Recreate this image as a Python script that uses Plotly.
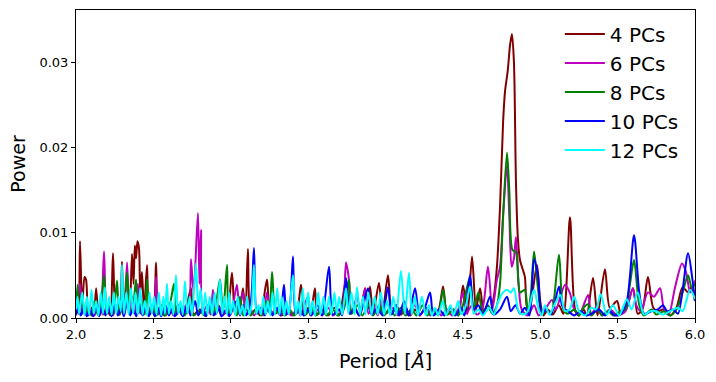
import plotly.graph_objects as go

# ---------------- data ----------------
series_names = ["4 PCs", "6 PCs", "8 PCs", "10 PCs", "12 PCs"]
series_colors = ["#800000", "#BF00BF", "#008000", "#0000FF", "#00FFFF"]

pc4_x = [2.00, 2.015, 2.026, 2.04, 2.055, 2.065, 2.08, 2.10, 2.115, 2.13, 2.145, 2.162, 2.175, 2.20, 2.22,
         2.239, 2.255, 2.27, 2.285, 2.297, 2.31, 2.33, 2.345, 2.362, 2.372, 2.38, 2.388, 2.397, 2.407, 2.415,
         2.426, 2.44, 2.459, 2.475, 2.50, 2.517, 2.53, 2.55, 2.57, 2.60, 2.63, 2.66, 2.69, 2.72, 2.743, 2.76,
         2.80, 2.83, 2.86, 2.89, 2.92, 2.95, 2.98, 3.008, 3.025, 3.04, 3.055, 3.079, 3.095, 3.111, 3.13, 3.16,
         3.19, 3.234, 3.25, 3.27, 3.30, 3.33, 3.37, 3.40, 3.43, 3.454, 3.475, 3.50, 3.515, 3.544, 3.56, 3.60,
         3.63, 3.67, 3.70, 3.745, 3.77, 3.80, 3.83, 3.868, 3.887, 3.90, 3.92, 3.958, 3.98, 4.016, 4.04, 4.07,
         4.10, 4.13, 4.16, 4.19, 4.22, 4.26, 4.30, 4.34, 4.372, 4.40, 4.44, 4.47, 4.501, 4.53, 4.559, 4.585,
         4.611, 4.635, 4.66, 4.68, 4.70, 4.72, 4.74, 4.76, 4.772, 4.79, 4.805, 4.817, 4.83, 4.843, 4.855,
         4.869, 4.885, 4.901, 4.914, 4.93, 4.95, 4.979, 5.00, 5.02, 5.05, 5.08, 5.12, 5.15, 5.192, 5.225,
         5.25, 5.28, 5.30, 5.341, 5.37, 5.418, 5.45, 5.496, 5.52, 5.55, 5.599, 5.63, 5.66, 5.696, 5.73, 5.76,
         5.793, 5.84, 5.88, 5.92, 5.955, 5.975, 6.00]
pc4_y = [0.0015, 0.0005, 0.0090, 0.0010, 0.0048, 0.0045, 0.0005, 0.0012, 0.0003, 0.0035, 0.0004, 0.0020,
         0.0004, 0.0010, 0.0003, 0.0076, 0.0008, 0.0015, 0.0004, 0.0066, 0.0005, 0.0020, 0.0005, 0.0075,
         0.0040, 0.0085, 0.0070, 0.0090, 0.0082, 0.0030, 0.0054, 0.0008, 0.0062, 0.0005, 0.0010, 0.0065,
         0.0005, 0.0015, 0.0003, 0.0012, 0.0004, 0.0015, 0.0004, 0.0018, 0.0035, 0.0004, 0.0010, 0.0003,
         0.0012, 0.0004, 0.0015, 0.0004, 0.0010, 0.0053, 0.0005, 0.0020, 0.0004, 0.0035, 0.0005, 0.0081,
         0.0005, 0.0010, 0.0003, 0.0045, 0.0010, 0.0005, 0.0012, 0.0003, 0.0008, 0.0003, 0.0010, 0.0039,
         0.0005, 0.0012, 0.0003, 0.0035, 0.0004, 0.0010, 0.0003, 0.0012, 0.0003, 0.0045, 0.0005, 0.0012,
         0.0003, 0.0035, 0.0010, 0.0037, 0.0005, 0.0041, 0.0005, 0.0050, 0.0005, 0.0015, 0.0004, 0.0012,
         0.0003, 0.0010, 0.0003, 0.0012, 0.0004, 0.0008, 0.0037, 0.0004, 0.0010, 0.0003, 0.0038, 0.0005,
         0.0072, 0.0010, 0.0035, 0.0008, 0.0015, 0.0010, 0.0025, 0.0060, 0.0130, 0.0230, 0.0265, 0.0290,
         0.0320, 0.0333, 0.0300, 0.0160, 0.0095, 0.0068, 0.0058, 0.0048, 0.0013, 0.0010, 0.0030, 0.0062,
         0.0020, 0.0003, 0.0010, 0.0004, 0.0015, 0.0005, 0.0118, 0.0010, 0.0003, 0.0010, 0.0003, 0.0047,
         0.0003, 0.0057, 0.0012, 0.0020, 0.0005, 0.0008, 0.0035, 0.0005, 0.0010, 0.0048, 0.0012, 0.0008,
         0.0010, 0.0003, 0.0012, 0.0036, 0.0030, 0.0036, 0.0020]

pc6_x = [2.00, 2.026, 2.04, 2.06, 2.08, 2.10, 2.12, 2.14, 2.16, 2.181, 2.20, 2.22, 2.24, 2.26, 2.28, 2.297,
         2.31, 2.33, 2.345, 2.362, 2.38, 2.40, 2.415, 2.44, 2.46, 2.49, 2.505, 2.517, 2.53, 2.56, 2.58, 2.61,
         2.63, 2.66, 2.68, 2.71, 2.73, 2.743, 2.76, 2.788, 2.798, 2.808, 2.82, 2.85, 2.87, 2.885, 2.90, 2.93,
         2.95, 2.98, 3.00, 3.04, 3.055, 3.079, 3.10, 3.13, 3.15, 3.19, 3.21, 3.234, 3.26, 3.29, 3.32, 3.36,
         3.39, 3.43, 3.45, 3.499, 3.52, 3.56, 3.59, 3.63, 3.66, 3.70, 3.72, 3.745, 3.764, 3.78, 3.816, 3.84,
         3.868, 3.89, 3.92, 3.95, 3.98, 4.00, 4.05, 4.08, 4.12, 4.15, 4.19, 4.22, 4.26, 4.29, 4.33, 4.36,
         4.40, 4.43, 4.47, 4.501, 4.52, 4.56, 4.59, 4.625, 4.662, 4.69, 4.72, 4.74, 4.76, 4.785, 4.80, 4.815,
         4.83, 4.843, 4.86, 4.88, 4.92, 4.96, 4.99, 5.03, 5.076, 5.10, 5.16, 5.19, 5.22, 5.25, 5.309, 5.33,
         5.36, 5.40, 5.45, 5.50, 5.55, 5.599, 5.62, 5.65, 5.696, 5.735, 5.774, 5.80, 5.83, 5.87, 5.916, 5.94,
         5.97, 6.00]
pc6_y = [0.0005, 0.0040, 0.0005, 0.0015, 0.0003, 0.0010, 0.0003, 0.0015, 0.0004, 0.0078, 0.0006, 0.0012,
         0.0003, 0.0015, 0.0004, 0.0025, 0.0004, 0.0065, 0.0005, 0.0025, 0.0005, 0.0040, 0.0005, 0.0020,
         0.0004, 0.0015, 0.0004, 0.0048, 0.0004, 0.0015, 0.0003, 0.0012, 0.0003, 0.0015, 0.0004, 0.0015,
         0.0010, 0.0069, 0.0030, 0.0123, 0.0040, 0.0103, 0.0008, 0.0015, 0.0004, 0.0033, 0.0004, 0.0012,
         0.0003, 0.0012, 0.0004, 0.0039, 0.0010, 0.0030, 0.0004, 0.0010, 0.0003, 0.0012, 0.0003, 0.0030,
         0.0005, 0.0010, 0.0003, 0.0010, 0.0003, 0.0010, 0.0003, 0.0025, 0.0004, 0.0010, 0.0003, 0.0012,
         0.0003, 0.0010, 0.0010, 0.0065, 0.0045, 0.0005, 0.0025, 0.0004, 0.0035, 0.0005, 0.0015, 0.0003,
         0.0020, 0.0005, 0.0012, 0.0003, 0.0010, 0.0003, 0.0015, 0.0003, 0.0012, 0.0003, 0.0010, 0.0003,
         0.0010, 0.0003, 0.0010, 0.0030, 0.0005, 0.0015, 0.0004, 0.0010, 0.0060, 0.0010, 0.0045, 0.0060,
         0.0120, 0.0180, 0.0120, 0.0060, 0.0070, 0.0095, 0.0040, 0.0010, 0.0003, 0.0015, 0.0003, 0.0010,
         0.0021, 0.0010, 0.0039, 0.0030, 0.0010, 0.0003, 0.0027, 0.0004, 0.0012, 0.0003, 0.0010, 0.0003,
         0.0008, 0.0035, 0.0015, 0.0008, 0.0030, 0.0025, 0.0035, 0.0010, 0.0004, 0.0035, 0.0064, 0.0055,
         0.0030, 0.0044]

pc8_x = [2.00, 2.01, 2.02, 2.04, 2.055, 2.08, 2.10, 2.12, 2.14, 2.16, 2.181, 2.20, 2.22, 2.24, 2.265, 2.28,
         2.30, 2.31, 2.33, 2.35, 2.37, 2.388, 2.40, 2.43, 2.445, 2.459, 2.475, 2.50, 2.52, 2.55, 2.57, 2.60,
         2.633, 2.65, 2.68, 2.70, 2.73, 2.76, 2.80, 2.83, 2.86, 2.88, 2.90, 2.93, 2.95, 2.976, 2.99, 3.02,
         3.04, 3.06, 3.08, 3.10, 3.13, 3.17, 3.20, 3.234, 3.25, 3.267, 3.29, 3.32, 3.35, 3.38, 3.41, 3.45,
         3.48, 3.52, 3.55, 3.59, 3.62, 3.66, 3.69, 3.73, 3.764, 3.78, 3.82, 3.85, 3.89, 3.92, 3.96, 3.99,
         4.03, 4.06, 4.10, 4.13, 4.17, 4.20, 4.24, 4.27, 4.31, 4.34, 4.372, 4.40, 4.44, 4.47, 4.50, 4.546,
         4.57, 4.60, 4.63, 4.66, 4.69, 4.72, 4.74, 4.76, 4.785, 4.80, 4.82, 4.843, 4.87, 4.90, 4.92, 4.94,
         4.96, 4.985, 5.01, 5.04, 5.07, 5.121, 5.15, 5.18, 5.22, 5.25, 5.28, 5.309, 5.33, 5.37, 5.40, 5.44,
         5.47, 5.52, 5.55, 5.58, 5.606, 5.64, 5.67, 5.72, 5.75, 5.80, 5.84, 5.88, 5.92, 5.955, 5.98, 6.00]
pc8_y = [0.0010, 0.0039, 0.0005, 0.0030, 0.0005, 0.0012, 0.0003, 0.0020, 0.0004, 0.0015, 0.0050, 0.0005,
         0.0015, 0.0004, 0.0044, 0.0004, 0.0012, 0.0003, 0.0053, 0.0004, 0.0015, 0.0045, 0.0005, 0.0020,
         0.0004, 0.0045, 0.0004, 0.0012, 0.0003, 0.0015, 0.0003, 0.0010, 0.0040, 0.0004, 0.0012, 0.0003,
         0.0010, 0.0003, 0.0008, 0.0003, 0.0015, 0.0004, 0.0012, 0.0045, 0.0006, 0.0062, 0.0005, 0.0012,
         0.0003, 0.0025, 0.0003, 0.0010, 0.0003, 0.0012, 0.0003, 0.0020, 0.0006, 0.0054, 0.0005, 0.0012,
         0.0003, 0.0010, 0.0003, 0.0010, 0.0003, 0.0012, 0.0003, 0.0010, 0.0003, 0.0010, 0.0003, 0.0010,
         0.0045, 0.0005, 0.0015, 0.0003, 0.0015, 0.0003, 0.0015, 0.0003, 0.0012, 0.0003, 0.0012, 0.0003,
         0.0010, 0.0003, 0.0015, 0.0003, 0.0010, 0.0003, 0.0033, 0.0004, 0.0010, 0.0003, 0.0015, 0.0048,
         0.0010, 0.0030, 0.0005, 0.0015, 0.0005, 0.0015, 0.0040, 0.0120, 0.0194, 0.0150, 0.0080, 0.0077,
         0.0030, 0.0033, 0.0005, 0.0030, 0.0078, 0.0035, 0.0005, 0.0010, 0.0005, 0.0074, 0.0010, 0.0005,
         0.0010, 0.0003, 0.0012, 0.0016, 0.0003, 0.0010, 0.0003, 0.0008, 0.0003, 0.0008, 0.0010, 0.0040,
         0.0068, 0.0015, 0.0003, 0.0010, 0.0004, 0.0008, 0.0003, 0.0010, 0.0030, 0.0050, 0.0035, 0.0040]

pc10_x = [2.00, 2.01, 2.03, 2.05, 2.07, 2.09, 2.11, 2.13, 2.15, 2.17, 2.19, 2.21, 2.23, 2.25, 2.27, 2.29,
          2.31, 2.33, 2.35, 2.37, 2.39, 2.41, 2.43, 2.45, 2.47, 2.49, 2.51, 2.53, 2.55, 2.58, 2.60, 2.62,
          2.64, 2.67, 2.69, 2.72, 2.74, 2.77, 2.79, 2.82, 2.84, 2.87, 2.89, 2.92, 2.94, 2.97, 2.99, 3.02,
          3.04, 3.06, 3.08, 3.10, 3.13, 3.150, 3.17, 3.20, 3.22, 3.25, 3.27, 3.30, 3.32, 3.344, 3.36, 3.38,
          3.402, 3.42, 3.45, 3.47, 3.50, 3.52, 3.56, 3.59, 3.635, 3.66, 3.70, 3.72, 3.745, 3.77, 3.80, 3.83,
          3.887, 3.91, 3.95, 3.98, 4.016, 4.04, 4.07, 4.09, 4.12, 4.15, 4.191, 4.22, 4.25, 4.288, 4.31, 4.35,
          4.38, 4.42, 4.45, 4.49, 4.51, 4.546, 4.57, 4.60, 4.63, 4.675, 4.70, 4.74, 4.785, 4.81, 4.84, 4.87,
          4.90, 4.93, 4.960, 4.985, 5.01, 5.04, 5.07, 5.121, 5.14, 5.16, 5.18, 5.22, 5.26, 5.30, 5.341, 5.38,
          5.42, 5.45, 5.48, 5.52, 5.56, 5.606, 5.64, 5.67, 5.72, 5.76, 5.793, 5.82, 5.86, 5.89, 5.955, 5.98,
          6.00]
pc10_y = [0.0003, 0.0015, 0.0003, 0.0012, 0.0002, 0.0010, 0.0002, 0.0012, 0.0002, 0.0015, 0.0003, 0.0012,
          0.0002, 0.0015, 0.0003, 0.0012, 0.0002, 0.0020, 0.0003, 0.0012, 0.0002, 0.0015, 0.0003, 0.0012,
          0.0002, 0.0010, 0.0002, 0.0012, 0.0002, 0.0015, 0.0003, 0.0010, 0.0002, 0.0012, 0.0002, 0.0015,
          0.0003, 0.0020, 0.0003, 0.0012, 0.0002, 0.0015, 0.0003, 0.0012, 0.0002, 0.0010, 0.0002, 0.0015,
          0.0020, 0.0003, 0.0015, 0.0003, 0.0020, 0.0082, 0.0005, 0.0012, 0.0003, 0.0015, 0.0003, 0.0012,
          0.0003, 0.0039, 0.0004, 0.0012, 0.0072, 0.0005, 0.0012, 0.0003, 0.0010, 0.0003, 0.0015, 0.0003,
          0.0060, 0.0004, 0.0010, 0.0003, 0.0047, 0.0005, 0.0012, 0.0003, 0.0035, 0.0004, 0.0012, 0.0003,
          0.0036, 0.0004, 0.0015, 0.0003, 0.0020, 0.0003, 0.0035, 0.0004, 0.0010, 0.0030, 0.0003, 0.0010,
          0.0003, 0.0012, 0.0003, 0.0012, 0.0003, 0.0050, 0.0010, 0.0015, 0.0004, 0.0025, 0.0004, 0.0010,
          0.0025, 0.0008, 0.0015, 0.0005, 0.0012, 0.0003, 0.0069, 0.0050, 0.0005, 0.0010, 0.0004, 0.0037,
          0.0015, 0.0010, 0.0008, 0.0003, 0.0008, 0.0003, 0.0006, 0.0010, 0.0003, 0.0008, 0.0003, 0.0005,
          0.0020, 0.0097, 0.0030, 0.0005, 0.0008, 0.0010, 0.0015, 0.0008, 0.0010, 0.0005, 0.0076, 0.0050,
          0.0020]

pc12_x = [2.00, 2.01, 2.02, 2.04, 2.055, 2.07, 2.085, 2.10, 2.115, 2.13, 2.145, 2.16, 2.175, 2.187, 2.20,
          2.215, 2.23, 2.245, 2.26, 2.275, 2.29, 2.297, 2.31, 2.325, 2.34, 2.355, 2.37, 2.385, 2.40, 2.415,
          2.43, 2.445, 2.46, 2.475, 2.49, 2.505, 2.52, 2.535, 2.55, 2.565, 2.575, 2.588, 2.60, 2.615, 2.63,
          2.646, 2.66, 2.675, 2.69, 2.704, 2.72, 2.735, 2.75, 2.775, 2.79, 2.805, 2.82, 2.835, 2.85, 2.865,
          2.88, 2.895, 2.91, 2.930, 2.945, 2.96, 2.975, 2.99, 3.00, 3.015, 3.03, 3.045, 3.06, 3.075, 3.09,
          3.105, 3.12, 3.135, 3.150, 3.165, 3.18, 3.195, 3.21, 3.225, 3.24, 3.255, 3.27, 3.285, 3.30, 3.315,
          3.33, 3.345, 3.36, 3.375, 3.402, 3.42, 3.435, 3.45, 3.465, 3.48, 3.50, 3.515, 3.53, 3.545, 3.565,
          3.58, 3.60, 3.615, 3.635, 3.65, 3.67, 3.685, 3.70, 3.72, 3.745, 3.76, 3.78, 3.80, 3.816, 3.835,
          3.855, 3.87, 3.89, 3.91, 3.93, 3.95, 3.97, 3.99, 4.01, 4.03, 4.05, 4.07, 4.10, 4.125, 4.152, 4.17,
          4.19, 4.21, 4.235, 4.26, 4.28, 4.30, 4.32, 4.34, 4.37, 4.39, 4.42, 4.44, 4.47, 4.49, 4.52, 4.546,
          4.57, 4.60, 4.63, 4.67, 4.70, 4.73, 4.76, 4.785, 4.81, 4.83, 4.86, 4.89, 4.92, 4.96, 4.99, 5.01,
          5.03, 5.06, 5.09, 5.13, 5.16, 5.19, 5.22, 5.25, 5.29, 5.33, 5.36, 5.39, 5.43, 5.47, 5.51, 5.56,
          5.59, 5.63, 5.67, 5.71, 5.75, 5.79, 5.84, 5.89, 5.92, 5.968, 6.00]
pc12_y = [0.0010, 0.0025, 0.0005, 0.0030, 0.0003, 0.0025, 0.0004, 0.0033, 0.0005, 0.0020, 0.0003, 0.0030,
          0.0005, 0.0036, 0.0005, 0.0025, 0.0004, 0.0030, 0.0005, 0.0025, 0.0008, 0.0062, 0.0005, 0.0030,
          0.0004, 0.0035, 0.0005, 0.0030, 0.0004, 0.0035, 0.0004, 0.0020, 0.0003, 0.0030, 0.0005, 0.0025,
          0.0004, 0.0030, 0.0003, 0.0025, 0.0005, 0.0040, 0.0005, 0.0020, 0.0004, 0.0050, 0.0005, 0.0020,
          0.0004, 0.0043, 0.0005, 0.0025, 0.0004, 0.0064, 0.0010, 0.0035, 0.0004, 0.0030, 0.0004, 0.0025,
          0.0004, 0.0030, 0.0005, 0.0045, 0.0005, 0.0025, 0.0004, 0.0030, 0.0005, 0.0020, 0.0003, 0.0025,
          0.0004, 0.0015, 0.0003, 0.0025, 0.0004, 0.0015, 0.0062, 0.0005, 0.0015, 0.0004, 0.0025, 0.0004,
          0.0020, 0.0003, 0.0030, 0.0004, 0.0035, 0.0004, 0.0025, 0.0003, 0.0020, 0.0004, 0.0050, 0.0004,
          0.0020, 0.0003, 0.0035, 0.0004, 0.0030, 0.0004, 0.0020, 0.0003, 0.0030, 0.0004, 0.0025, 0.0004,
          0.0025, 0.0004, 0.0030, 0.0004, 0.0025, 0.0004, 0.0035, 0.0005, 0.0030, 0.0004, 0.0036, 0.0004,
          0.0025, 0.0004, 0.0030, 0.0004, 0.0025, 0.0004, 0.0030, 0.0004, 0.0020, 0.0003, 0.0025, 0.0004,
          0.0055, 0.0005, 0.0053, 0.0004, 0.0025, 0.0003, 0.0025, 0.0003, 0.0015, 0.0003, 0.0012, 0.0003,
          0.0020, 0.0003, 0.0015, 0.0003, 0.0020, 0.0004, 0.0015, 0.0037, 0.0005, 0.0010, 0.0003, 0.0012,
          0.0004, 0.0020, 0.0030, 0.0033, 0.0030, 0.0035, 0.0008, 0.0004, 0.0008, 0.0033, 0.0010, 0.0003,
          0.0015, 0.0004, 0.0015, 0.0027, 0.0008, 0.0010, 0.0025, 0.0008, 0.0003, 0.0012, 0.0010, 0.0028,
          0.0004, 0.0015, 0.0003, 0.0022, 0.0010, 0.0030, 0.0004, 0.0008, 0.0008, 0.0004, 0.0008, 0.0012,
          0.0008, 0.0033, 0.0022]

xs = [pc4_x, pc6_x, pc8_x, pc10_x, pc12_x]
ys = [pc4_y, pc6_y, pc8_y, pc10_y, pc12_y]

x_ticks = [2.0, 2.5, 3.0, 3.5, 4.0, 4.5, 5.0, 5.5, 6.0]
y_ticks = [0.00, 0.01, 0.02, 0.03]

# ---------------- figure ----------------
FONT = "DejaVu Sans"
fig = go.Figure()
for name, color, x, y in zip(series_names, series_colors, xs, ys):
    fig.add_trace(go.Scatter(x=x, y=y, mode="lines", name=name, legendgroup=name,
                             line=dict(color=color, width=2, shape="spline", smoothing=0.8)))

axis_common = dict(showline=True, linecolor="black", linewidth=1, mirror=True,
                   ticks="outside", ticklen=4, tickcolor="black", showgrid=False,
                   zeroline=False, automargin=False,
                   tickfont=dict(family=FONT, size=13, color="black"))

fig.update_layout(
    width=716, height=382,
    margin=dict(l=76, r=21, t=10, b=64),
    paper_bgcolor="white", plot_bgcolor="white",
    font=dict(family=FONT, color="black"),
    xaxis=dict(range=[2.0, 6.0], tickvals=x_ticks, ticktext=[f"{v:.1f}" for v in x_ticks],
               title=dict(text="Period [<i>Å</i>]", font=dict(family=FONT, size=19), standoff=14),
               **axis_common),
    yaxis=dict(range=[0.0, 0.0361], tickvals=y_ticks, ticktext=[f"{v:.2f}" for v in y_ticks],
               title=dict(text="Power", font=dict(family=FONT, size=19), standoff=8),
               **axis_common),
    legend=dict(x=0.982, y=0.985, xanchor="right", yanchor="top", bgcolor="rgba(0,0,0,0)",
                borderwidth=0, font=dict(family=FONT, size=20), tracegroupgap=0, itemwidth=40),
    showlegend=True,
)

fig.write_html("out.html", config={"displayModeBar": False},
               post_script="document.body.style.margin='0px';")
